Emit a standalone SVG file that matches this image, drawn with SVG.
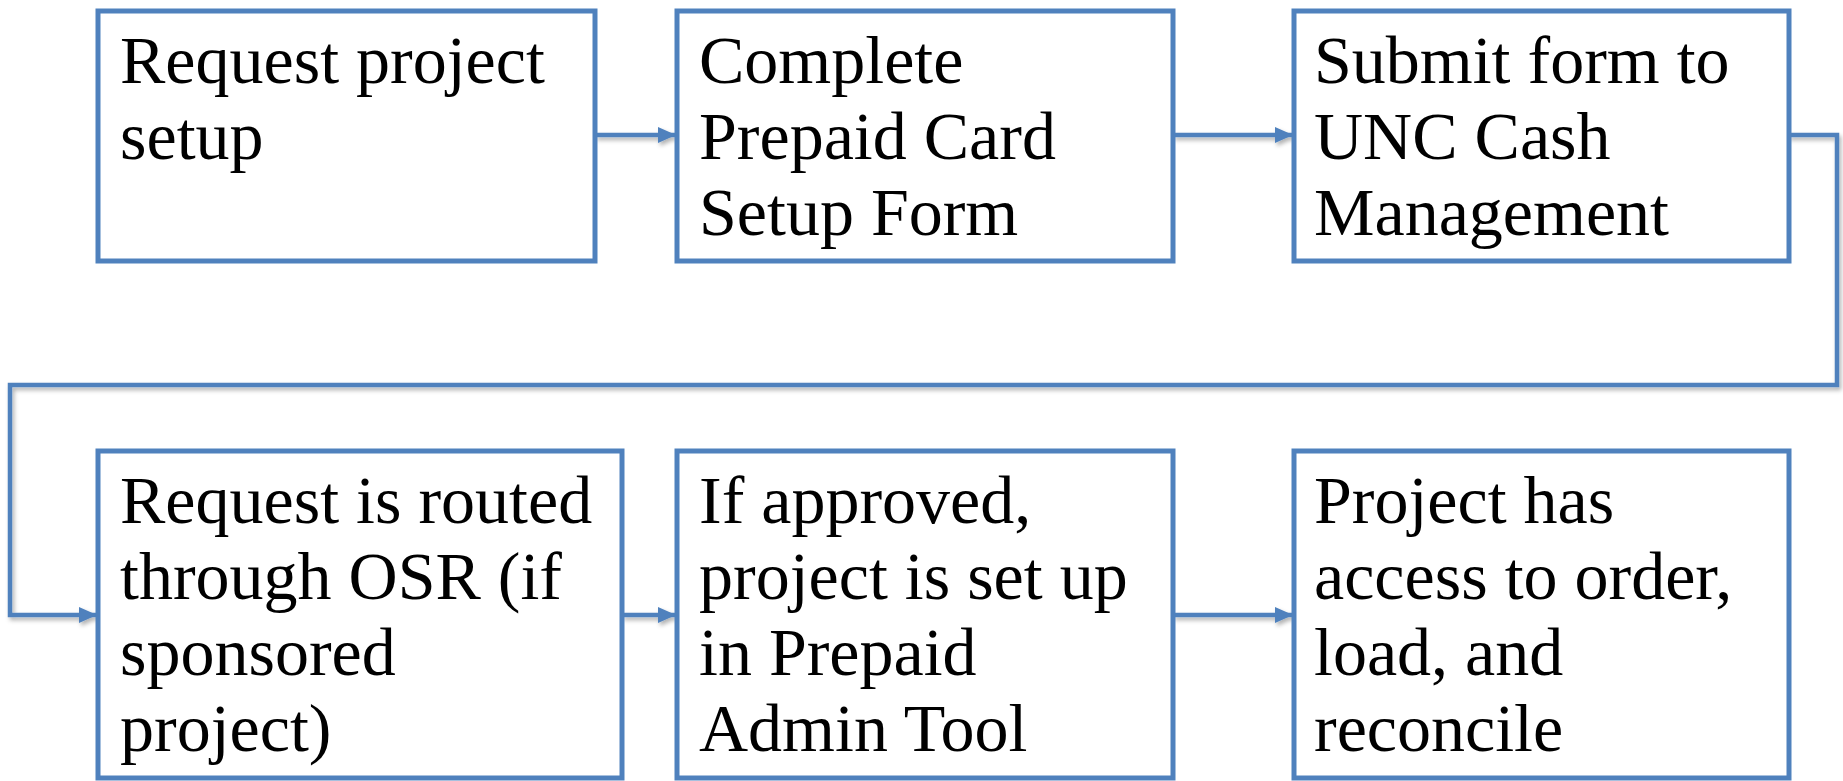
<svg xmlns="http://www.w3.org/2000/svg" width="1843" height="781" viewBox="0 0 1843 781">
<style>
.box{fill:#fff;stroke:#4F81BD;stroke-width:5}
.lbl{font-family:"Liberation Serif","Times New Roman",serif;font-size:68px;fill:#000}
.conn{fill:none;stroke:#4F81BD;stroke-width:4.5}
</style>
<defs>
<marker id="ah" markerWidth="4" markerHeight="4" refX="4" refY="2" orient="auto" markerUnits="strokeWidth">
<path d="M0,0.2 L4,2 L0,3.8 Z" fill="#4F81BD"/>
</marker>
<filter id="sh" x="-5%" y="-5%" width="110%" height="115%">
<feDropShadow dx="2" dy="3" stdDeviation="2" flood-color="#000" flood-opacity="0.3"/>
</filter>
</defs>
<rect width="1843" height="781" fill="#fff"/>
<g id="connectors" filter="url(#sh)">
<path class="conn" d="M595,135 H676" marker-end="url(#ah)"/>
<path class="conn" d="M1173,135 H1293" marker-end="url(#ah)"/>
<path class="conn" d="M1788,135 H1837 V385 H10 V615 H97" marker-end="url(#ah)"/>
<path class="conn" d="M622,615 H676" marker-end="url(#ah)"/>
<path class="conn" d="M1173,615 H1293" marker-end="url(#ah)"/>
</g>
<g id="n1"><rect class="box" x="98" y="11" width="497" height="250"/>
<text class="lbl" x="120" y="83">Request project</text><text class="lbl" x="120" y="159">setup</text></g>
<g id="n2"><rect class="box" x="677" y="11" width="496" height="250"/>
<text class="lbl" x="699" y="83">Complete</text><text class="lbl" x="699" y="159">Prepaid Card</text><text class="lbl" x="699" y="235">Setup Form</text></g>
<g id="n3"><rect class="box" x="1294" y="11" width="495" height="250"/>
<text class="lbl" x="1314" y="83">Submit form to</text><text class="lbl" x="1314" y="159">UNC Cash</text><text class="lbl" x="1314" y="235">Management</text></g>
<g id="n4"><rect class="box" x="98" y="451" width="524" height="327"/>
<text class="lbl" x="120" y="523">Request is routed</text><text class="lbl" x="120" y="599">through OSR (if</text><text class="lbl" x="120" y="675">sponsored</text><text class="lbl" x="120" y="751">project)</text></g>
<g id="n5"><rect class="box" x="677" y="451" width="496" height="327"/>
<text class="lbl" x="699" y="523">If approved,</text><text class="lbl" x="699" y="599">project is set up</text><text class="lbl" x="699" y="675">in Prepaid</text><text class="lbl" x="699" y="751">Admin Tool</text></g>
<g id="n6"><rect class="box" x="1294" y="451" width="495" height="327"/>
<text class="lbl" x="1314" y="523">Project has</text><text class="lbl" x="1314" y="599">access to order,</text><text class="lbl" x="1314" y="675">load, and</text><text class="lbl" x="1314" y="751">reconcile</text></g>
</svg>
